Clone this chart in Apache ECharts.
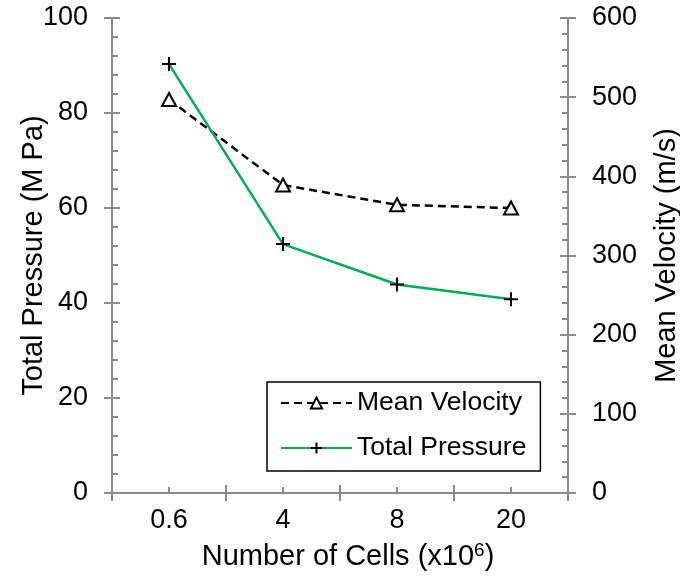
<!DOCTYPE html>
<html>
<head>
<meta charset="utf-8">
<script src="https://cdn.jsdelivr.net/npm/echarts@6/dist/echarts.min.js"></script>
<style>html,body{margin:0;padding:0;background:#fff}#c{width:680px;height:579px}</style>
</head>
<body>
<div id="c"></div>
<script>
const categories = ['0.6', '4', '8', '20'];
const meanVelocity = [497, 389, 364, 360];
const totalPressure = [90.3, 52.4, 43.9, 40.8];

const FONT = '"Liberation Sans", Arial, sans-serif';
const AX = '#8a8a8a';
const chart = echarts.init(document.getElementById('c'), null, {renderer: 'canvas'});

const axLine = {show: true, lineStyle: {color: AX, width: 2}};
const lbl = {color: '#000', fontSize: 27, fontFamily: FONT};

chart.setOption({
  animation: false,
  backgroundColor: '#fff',
  grid: {left: 112, right: 112, top: 18, bottom: 86, containLabel: false, outerBoundsMode: 'none'},
  legend: {
    orient: 'vertical', left: 267, top: 382,
    padding: [6, 14, 8, 13],
    itemWidth: 71, itemHeight: 14, itemGap: 15,
    borderColor: '#000', borderWidth: 1.5,
    textStyle: {color: '#000', fontSize: 26.5, fontFamily: FONT, lineHeight: 30},
    data: ['Mean Velocity', 'Total Pressure']
  },
  xAxis: [
    {
      type: 'category', data: categories, position: 'bottom', boundaryGap: true,
      axisLine: axLine,
      axisTick: {show: true, inside: false, length: 8, lineStyle: {color: AX, width: 2}},
      axisLabel: Object.assign({margin: 14}, lbl),
      splitLine: {show: false},
      name: 'Number of Cells (x10{sup|6})', nameLocation: 'middle', nameGap: 48,
      nameMoveOverlap: false,
      nameTextStyle: {color: '#000', fontSize: 29, fontFamily: FONT, padding: [0, 0, 0, 16],
        rich: {sup: {fontSize: 19, fontFamily: FONT, color: '#000', padding: [0, 0, 12, 0]}}}
    },
    {
      type: 'category', data: categories, position: 'bottom', boundaryGap: true,
      axisLine: {show: false},
      axisTick: {show: true, inside: true, length: 8, lineStyle: {color: AX, width: 2}},
      axisLabel: {show: false}, splitLine: {show: false}
    },
    {
      type: 'category', data: categories, position: 'bottom', boundaryGap: true,
      axisLine: {show: false},
      axisTick: {show: true, inside: true, alignWithLabel: true, length: 6, lineStyle: {color: AX, width: 2}},
      axisLabel: {show: false}, splitLine: {show: false}
    }
  ],
  yAxis: [
    {
      type: 'value', position: 'left', min: 0, max: 100, interval: 20,
      axisLine: axLine,
      axisTick: {show: true, inside: false, length: 8, lineStyle: {color: AX, width: 2}},
      axisLabel: Object.assign({margin: 24}, lbl),
      splitLine: {show: false},
      name: 'Total Pressure (M Pa)', nameLocation: 'middle', nameGap: 64,
      nameMoveOverlap: false,
      nameTextStyle: {color: '#000', fontSize: 29, fontFamily: FONT}
    },
    {
      type: 'value', position: 'right', min: 0, max: 600, interval: 100,
      axisLine: axLine,
      axisTick: {show: true, inside: false, length: 8, lineStyle: {color: AX, width: 2}},
      axisLabel: Object.assign({margin: 24}, lbl),
      splitLine: {show: false},
      name: 'Mean Velocity (m/s)', nameLocation: 'middle', nameGap: 84, nameRotate: 90,
      nameMoveOverlap: false,
      nameTextStyle: {color: '#000', fontSize: 29, fontFamily: FONT}
    },
    {
      type: 'value', position: 'left', min: 0, max: 100, interval: 20,
      axisLine: {show: false},
      axisTick: {show: true, inside: true, length: 8, lineStyle: {color: AX, width: 2}},
      minorTick: {show: true, splitNumber: 5, length: 6, lineStyle: {color: AX, width: 2}},
      axisLabel: {show: false}, splitLine: {show: false}
    },
    {
      type: 'value', position: 'right', min: 0, max: 600, interval: 100,
      axisLine: {show: false},
      axisTick: {show: true, inside: true, length: 8, lineStyle: {color: AX, width: 2}},
      minorTick: {show: true, splitNumber: 5, length: 6, lineStyle: {color: AX, width: 2}},
      axisLabel: {show: false}, splitLine: {show: false}
    }
  ],
  series: [
    {
      name: 'Mean Velocity', type: 'line', xAxisIndex: 0, yAxisIndex: 1,
      data: meanVelocity,
      symbol: 'triangle', symbolSize: [14, 13],
      itemStyle: {color: '#fff', borderColor: '#000', borderWidth: 2},
      lineStyle: {color: '#000', width: 2.5, type: [8, 5]},
      z: 3
    },
    {
      name: 'Total Pressure', type: 'line', xAxisIndex: 0, yAxisIndex: 0,
      data: totalPressure,
      symbol: 'path://M0,6L12,6M6,0L6,12', symbolSize: 14,
      itemStyle: {color: 'none', borderColor: '#000', borderWidth: 2},
      lineStyle: {color: '#00b050', width: 2.5},
      z: 4
    }
  ]
});
</script>
</body>
</html>
